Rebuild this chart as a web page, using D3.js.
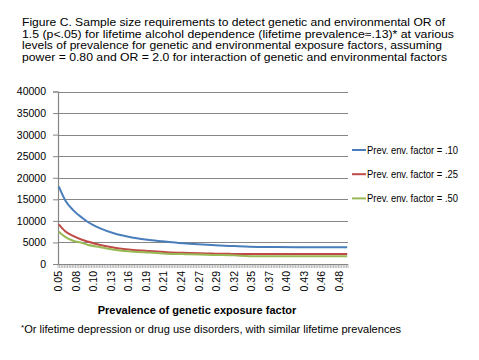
<!DOCTYPE html>
<html>
<head>
<meta charset="utf-8">
<script src="https://cdn.jsdelivr.net/npm/d3@7/dist/d3.min.js"></script>
<style>
  body { margin: 0; background: #fff; }
  svg text { font-family: "Liberation Sans", Arial, sans-serif; fill: #000; }
</style>
</head>
<body>
<svg id="chart" width="479" height="360"></svg>
<script>
// category axis: 182 prevalence steps, a label on every 11th one
var categoryCount = 182;
var tickLabels = ["0.05", "0.08", "0.10", "0.13", "0.16", "0.19", "0.21", "0.24", "0.27",
  "0.29", "0.32", "0.35", "0.37", "0.40", "0.43", "0.46", "0.48"];
var labelEvery = 11;

// values at these category indices
var sampleIdx = [0, 4, 9, 15, 18, 26, 36, 47, 57, 68, 78, 82, 93, 98, 107, 110, 125, 150, 181];
var prev10 = [18000, 14800, 12500, 10600, 9800, 8250, 6950, 6100, 5550, 5150, 4800, 4700, 4450, 4350, 4200, 4150, 3950, 3900, 3900];
var prev25 = [9200, 7600, 6500, 5550, 5200, 4400, 3700, 3250, 3000, 2750, 2600, 2550, 2450, 2400, 2350, 2300, 2300, 2300, 2300];
var prev50 = [7500, 6300, 5400, 4850, 4450, 3900, 3250, 2850, 2650, 2400, 2300, 2250, 2150, 2100, 2050, 2000, 1800, 1800, 1800];
var seriesNames = ["Prev. env. factor = .10", "Prev. env. factor = .25", "Prev. env. factor = .50"];
var seriesColors = ["#4A7EBB", "#BE4B48", "#98B954"];

var titleLines = [
  "Figure C. Sample size requirements to detect genetic and environmental OR of",
  "1.5 (p<.05) for lifetime alcohol dependence (lifetime prevalence\u2248.13)* at various",
  "levels of prevalence for genetic and environmental exposure factors, assuming",
  "power = 0.80 and  OR = 2.0 for interaction of genetic and environmental factors"
];
var titleWidths = [423, 432, 420, 425];

var svg = d3.select("#chart");
var plot = { left: 58, right: 348, top: 91.5, bottom: 264 };

// title
svg.append("g").selectAll("text")
  .data(titleLines)
  .enter().append("text")
    .attr("x", 22)
    .attr("y", function(d, i) { return 26 + i * 11.7; })
    .attr("font-size", "10.5px")
    .attr("textLength", function(d, i) { return titleWidths[i]; })
    .attr("lengthAdjust", "spacingAndGlyphs")
    .text(function(d) { return d; });

var x = d3.scaleBand()
  .domain(d3.range(categoryCount))
  .range([plot.left, plot.right]);
var y = d3.scaleLinear()
  .domain([0, 40000])
  .range([plot.bottom, plot.top]);

// gridlines
svg.append("g")
  .selectAll("line")
  .data(y.ticks(8).filter(function(d) { return d > 0; }))
  .enter().append("line")
    .attr("x1", plot.left).attr("x2", plot.right)
    .attr("y1", function(d) { return Math.round(y(d)) + 0.5; })
    .attr("y2", function(d) { return Math.round(y(d)) + 0.5; })
    .attr("stroke", "#868686")
    .attr("stroke-width", 1.2);

// y axis
var yAxis = svg.append("g")
  .attr("transform", "translate(" + plot.left + ",0)")
  .call(d3.axisLeft(y).ticks(8).tickSize(5).tickPadding(7).tickFormat(d3.format("d")));
yAxis.select(".domain").attr("stroke", "#868686").attr("stroke-width", 1.2);
yAxis.selectAll(".tick line").attr("stroke", "#868686");
yAxis.selectAll(".tick text").attr("font-size", "10.5px").attr("font-family", "Liberation Sans, Arial, sans-serif");

// x axis: minor ticks at category boundaries
var xAxis = svg.append("g");
xAxis.append("line")
  .attr("x1", plot.left).attr("x2", plot.right)
  .attr("y1", plot.bottom + 0.5).attr("y2", plot.bottom + 0.5)
  .attr("stroke", "#868686").attr("stroke-width", 1.2);
xAxis.selectAll(".minor")
  .data(d3.range(categoryCount + 1))
  .enter().append("line")
    .attr("class", "minor")
    .attr("x1", function(d) { return plot.left + d * x.step(); })
    .attr("x2", function(d) { return plot.left + d * x.step(); })
    .attr("y1", plot.bottom)
    .attr("y2", plot.bottom + 4)
    .attr("stroke", "#868686")
    .attr("stroke-width", 0.6);
xAxis.selectAll(".xlab")
  .data(tickLabels)
  .enter().append("text")
    .attr("class", "xlab")
    .attr("font-size", "10.5px")
    .attr("text-anchor", "end")
    .attr("transform", function(d, i) {
      var cx = x(i * labelEvery) + x.bandwidth() / 2 + 3.5;
      return "translate(" + cx + "," + (plot.bottom + 7) + ") rotate(-90)";
    })
    .text(function(d) { return d; });

svg.append("text")
  .attr("x", 197)
  .attr("y", 314)
  .attr("text-anchor", "middle")
  .attr("font-size", "11px")
  .attr("font-weight", "bold")
  .text("Prevalence of genetic exposure factor");

// lines
var line = d3.line()
  .x(function(d) { return x(d[0]) + x.bandwidth() / 2; })
  .y(function(d) { return y(d[1]); })
  .curve(d3.curveMonotoneX);

[prev10, prev25, prev50].forEach(function(vals, s) {
  svg.append("path")
    .datum(sampleIdx.map(function(idx, i) { return [idx, vals[i]]; }))
    .attr("fill", "none")
    .attr("stroke", seriesColors[s])
    .attr("stroke-width", 2)
    .attr("d", line);
});

// legend
var legend = svg.append("g").selectAll("g")
  .data(seriesNames)
  .enter().append("g")
    .attr("transform", function(d, i) { return "translate(352," + (150 + i * 24.2) + ")"; });
legend.append("line")
  .attr("x1", 0).attr("x2", 14)
  .attr("stroke", function(d, i) { return seriesColors[i]; })
  .attr("stroke-width", 2);
legend.append("text")
  .attr("x", 15)
  .attr("y", 3.5)
  .attr("font-size", "10px")
  .attr("textLength", 91)
  .attr("lengthAdjust", "spacingAndGlyphs")
  .text(function(d) { return d; });

// footnote
var foot = svg.append("text")
  .attr("x", 21)
  .attr("y", 333)
  .attr("font-size", "11px");
foot.append("tspan").attr("font-size", "8px").attr("dy", -3).text("*");
foot.append("tspan").attr("dy", 3)
  .attr("textLength", 377)
  .attr("lengthAdjust", "spacingAndGlyphs")
  .text("Or lifetime depression or drug use disorders, with similar lifetime prevalences");
</script>
</body>
</html>
